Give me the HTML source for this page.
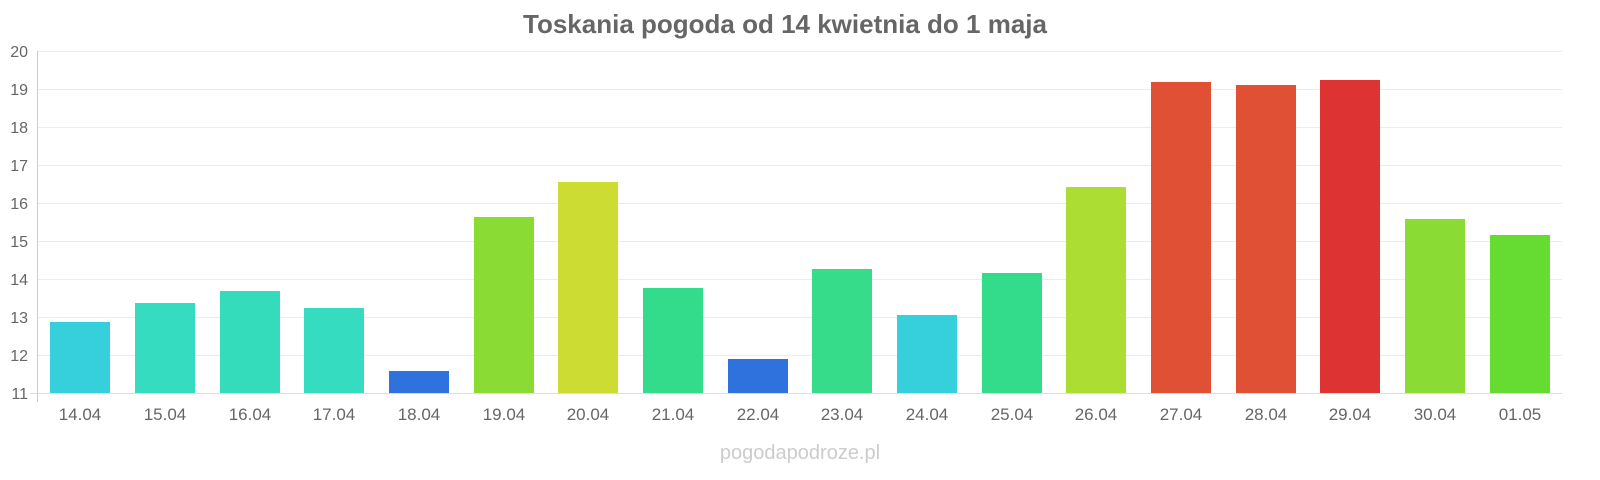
<!DOCTYPE html>
<html><head><meta charset="utf-8"><style>
html,body{margin:0;padding:0;background:#fff;}
svg{display:block;font-family:"Liberation Sans",Arial,sans-serif;}
</style></head><body>
<svg width="1600" height="480" viewBox="0 0 1600 480">
<text x="785" y="33" text-anchor="middle" font-size="26" font-weight="bold" fill="#666">Toskania pogoda od 14 kwietnia do 1 maja</text>
<g stroke="#ececec" stroke-width="1">
<line x1="38" x2="1562" y1="51.5" y2="51.5"/><line x1="38" x2="1562" y1="89.5" y2="89.5"/>
<line x1="38" x2="1562" y1="127.5" y2="127.5"/><line x1="38" x2="1562" y1="165.5" y2="165.5"/>
<line x1="38" x2="1562" y1="203.5" y2="203.5"/><line x1="38" x2="1562" y1="241.5" y2="241.5"/>
<line x1="38" x2="1562" y1="279.5" y2="279.5"/><line x1="38" x2="1562" y1="317.5" y2="317.5"/>
<line x1="38" x2="1562" y1="355.5" y2="355.5"/>
</g>
<line x1="37.5" x2="37.5" y1="51" y2="402" stroke="#ccc"/>
<line x1="30" x2="1562" y1="393.5" y2="393.5" stroke="#ddd"/>
<g font-size="16" fill="#666" text-anchor="end">
<text x="28" y="57">20</text><text x="28" y="95">19</text><text x="28" y="133">18</text>
<text x="28" y="171">17</text><text x="28" y="209">16</text><text x="28" y="247">15</text>
<text x="28" y="285">14</text><text x="28" y="323">13</text><text x="28" y="361">12</text>
<text x="28" y="399">11</text>
</g>
<g>
<rect x="50" y="322" width="60" height="71" fill="#36cfdc"/>
<rect x="135" y="303" width="60" height="90" fill="#35dcbf"/>
<rect x="220" y="291" width="60" height="102" fill="#35dcbb"/>
<rect x="304" y="308" width="60" height="85" fill="#35dcbf"/>
<rect x="389" y="371" width="60" height="22" fill="#2f72de"/>
<rect x="474" y="217" width="60" height="176" fill="#8bdb35"/>
<rect x="558" y="182" width="60" height="211" fill="#cddc32"/>
<rect x="643" y="288" width="60" height="105" fill="#33dc8a"/>
<rect x="728" y="359" width="60" height="34" fill="#2f72de"/>
<rect x="812" y="269" width="60" height="124" fill="#36dc8a"/>
<rect x="897" y="315" width="60" height="78" fill="#36cfdc"/>
<rect x="982" y="273" width="60" height="120" fill="#33dc8a"/>
<rect x="1066" y="187" width="60" height="206" fill="#acdd33"/>
<rect x="1151" y="82" width="60" height="311" fill="#df5035"/>
<rect x="1236" y="85" width="60" height="308" fill="#df5035"/>
<rect x="1320" y="80" width="60" height="313" fill="#dd3433"/>
<rect x="1405" y="219" width="60" height="174" fill="#8bdb35"/>
<rect x="1490" y="235" width="60" height="158" fill="#66dc33"/>
</g>
<g font-size="17" fill="#666" text-anchor="middle">
<text x="80" y="420">14.04</text><text x="165" y="420">15.04</text><text x="250" y="420">16.04</text>
<text x="334" y="420">17.04</text><text x="419" y="420">18.04</text><text x="504" y="420">19.04</text>
<text x="588" y="420">20.04</text><text x="673" y="420">21.04</text><text x="758" y="420">22.04</text>
<text x="842" y="420">23.04</text><text x="927" y="420">24.04</text><text x="1012" y="420">25.04</text>
<text x="1096" y="420">26.04</text><text x="1181" y="420">27.04</text><text x="1266" y="420">28.04</text>
<text x="1350" y="420">29.04</text><text x="1435" y="420">30.04</text><text x="1520" y="420">01.05</text>
</g>
<text x="800" y="459" text-anchor="middle" font-size="20" fill="#ccc">pogodapodroze.pl</text>
</svg>
</body></html>
